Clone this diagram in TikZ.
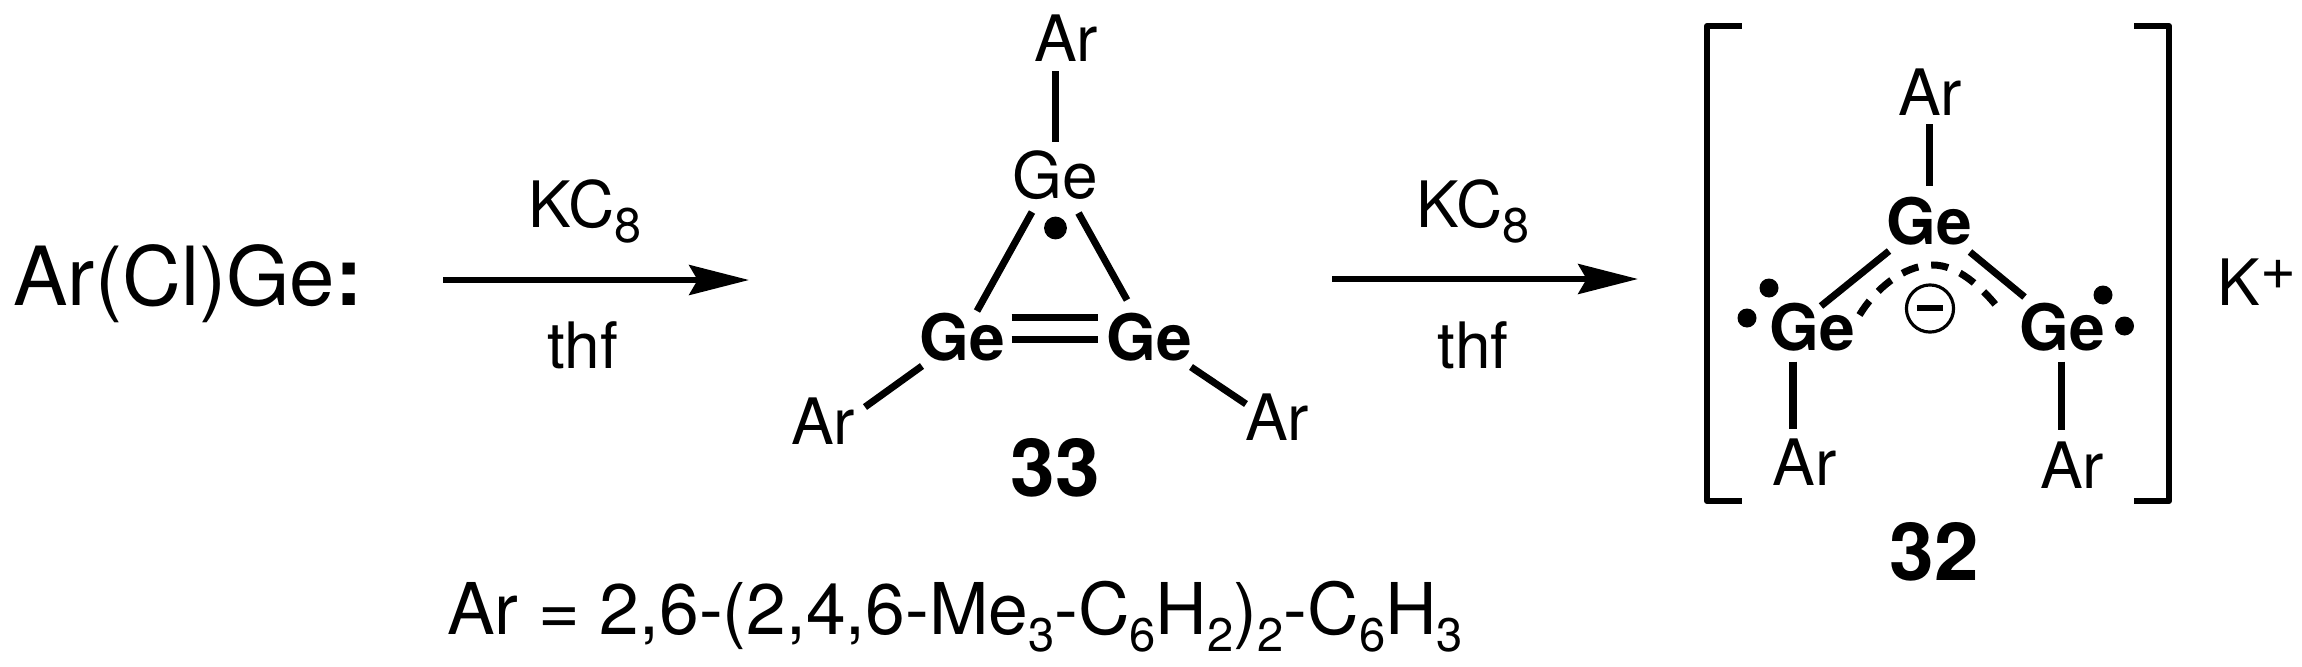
\documentclass[tikz,border=0pt]{standalone}
\usepackage{fontspec}
\setmainfont{TeX Gyre Heros}
\usetikzlibrary{arrows.meta}
\newcommand{\chemsub}[2][0.66em]{\raisebox{-0.24em}{\fontsize{#1}{1em}\selectfont #2}}
\tikzset{every node/.append style={inner sep=0pt,outer sep=0pt}}
\begin{document}
\begin{tikzpicture}
[x=0.01cm,y=-0.01cm,
  atomDecorate/.style={font=\fontsize{18.2pt}{20pt}\selectfont},
  boldDecorate/.style={font=\fontsize{18.2pt}{20pt}\selectfont\bfseries},
  labelDecorate/.style={font=\fontsize{22.8pt}{25pt}\selectfont\bfseries},
  textDecorate/.style={font=\fontsize{23.2pt}{25pt}\selectfont},
  bondDecorate/.style={-,line width=2pt},
  bracketDecorate/.style={-,line width=1.7pt,line join=round},
  arrowDecorate/.style={-{Stealth[length=17pt,width=8.5pt,inset=2.4pt]},line width=1.7pt},
  dotDecorate/.style={shape=circle,fill=black,minimum size=6.5pt}]
\useasboundingbox (0,0) rectangle (2302,666);
%% atoms of 33
\foreach \nodename/\x/\y/\txt in {
  arT/1066/38/Ar, arL/823/421/Ar, arR/1277/417.5/Ar}
{
  \node (\nodename) at (\x,\y) [atomDecorate] {\txt};
}
\node (geT) at (1055,175) [atomDecorate] {Ge};
\node (geL) at (962,337.5) [boldDecorate] {Ge};
\node (geR) at (1149,337.5) [boldDecorate] {Ge};
\node (radT) at (1055.5,228) [dotDecorate] {};
\node (numA) at (1055,467.5) [labelDecorate] {33};
%% atoms of 32
\foreach \nodename/\x/\y/\txt in {
  arTop/1930/92/Ar, arLow/1804.5/462.5/Ar, arRow/2072/465/Ar}
{
  \node (\nodename) at (\x,\y) [atomDecorate] {\txt};
}
\foreach \nodename/\x/\y in {
  geTop/1929/221, geLow/1812/327, geRow/2062/327}
{
  \node (\nodename) at (\x,\y) [boldDecorate] {Ge};
}
\foreach \nodename/\x/\y in {
  radA/1769/288, radB/1747/318, radC/2103/295, radD/2124.5/326}
{
  \node (\nodename) at (\x,\y) [dotDecorate,minimum size=5.4pt] {};
}
\node (minus) at (1930,308.5) [shape=circle,draw,line width=0.9pt,minimum size=13.4pt] {\rule[0.1pt]{7.6pt}{1.7pt}};
\node (numB) at (1934,551.5) [labelDecorate] {32};
\node (pot) at (2257,305) [atomDecorate,anchor=base] {K\raisebox{4.5pt}{\fontsize{17.5pt}{18pt}\selectfont +}};
%% reaction text
\node (start) at (188,305) [textDecorate,anchor=base] {Ar(Cl)Ge{\bfseries :}};
\node (reagA) at (585,227) [atomDecorate,anchor=base] {KC\chemsub[0.76em]{8}};
\node (solvA) at (582.5,368) [atomDecorate,anchor=base] {thf};
\node (reagB) at (1473,227) [atomDecorate,anchor=base] {KC\chemsub[0.76em]{8}};
\node (solvB) at (1473,368) [atomDecorate,anchor=base] {thf};
\node (aryl) at (955,634) [anchor=base,font=\fontsize{20.3pt}{22pt}\selectfont] {Ar = 2,6-(2,4,6-Me\chemsub{3}-C\chemsub{6}H\chemsub{2})\chemsub{2}-C\chemsub{6}H\chemsub{3}};
%% arrow ends
\coordinate (arrAs) at (443,280);
\coordinate (arrAe) at (749,280);
\coordinate (arrBs) at (1332,279);
\coordinate (arrBe) at (1638,279);
\draw[arrowDecorate] (arrAs) -- (arrAe);
\draw[arrowDecorate] (arrBs) -- (arrBe);
%% bonds
\foreach \startnode/\sx/\sy/\endnode/\ex/\ey in {
  arT/-10.5/33/geT/0.5/-33,
  geT/-23/37/geL/15/-26.5,
  geT/23.5/38/geR/-22/-37.5,
  geL/49.5/-20/geR/-51/-20,
  geL/49.5/2/geR/-51/2,
  geL/-40/28.5/arL/42/-14,
  geR/42/29.5/arR/-31/-13.5,
  arTop/-1/32/geTop/0/-35,
  geTop/-40/30/geLow/9/-21,
  geTop/41/31/geRow/-37.5/-30,
  geLow/-19/34.5/arLow/-11.5/-33.5,
  geRow/-1/34.5/arRow/-11/-35}
{
  \draw[bondDecorate] ([shift={(\sx,\sy)}]\startnode.center) -- ([shift={(\ex,\ey)}]\endnode.center);
}
%% delocalised bond
\draw[bondDecorate,dash pattern=on 4.9pt off 3.7pt] ([shift={(-69.5,-12)}]geTop.south |- geLow.center)
  .. controls +(15,-25) and (1903,265) .. (1933,265)
  .. controls (1958,265) and (1982,288) .. (1997,306.5);
%% brackets
\coordinate (brLa) at (1741.5,26);
\coordinate (brLb) at (1707,26);
\coordinate (brLc) at (1707,501);
\coordinate (brLd) at (1741.5,501);
\coordinate (brRa) at (2134,26);
\coordinate (brRb) at (2169,26);
\coordinate (brRc) at (2169,501);
\coordinate (brRd) at (2134,501);
\draw[bracketDecorate] (brLa) -- (brLb) -- (brLc) -- (brLd);
\draw[bracketDecorate] (brRa) -- (brRb) -- (brRc) -- (brRd);
\end{tikzpicture}
\end{document}
